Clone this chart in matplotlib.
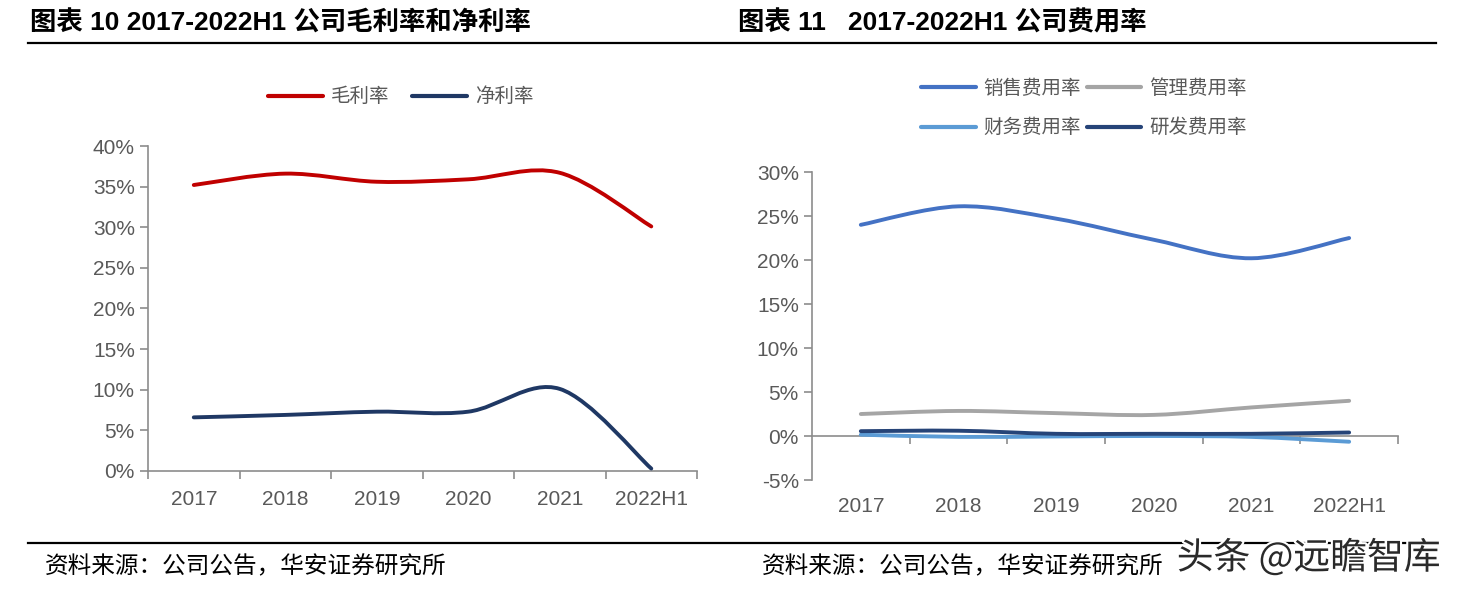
import numpy as np
import matplotlib
matplotlib.use("Agg")
import matplotlib.pyplot as plt
import matplotlib.patheffects as pe
from matplotlib.path import Path
from matplotlib.patches import PathPatch
from matplotlib.lines import Line2D

# data
categories = ["2017", "2018", "2019", "2020", "2021", "2022H1"]

gross_margin = [35.2, 36.6, 35.6, 35.9, 36.7, 30.1]
net_margin = [6.6, 6.9, 7.3, 7.3, 10.1, 0.3]

sales_rate = [24.0, 26.1, 24.7, 22.3, 20.2, 22.5]
admin_rate = [2.5, 2.85, 2.6, 2.4, 3.25, 4.0]
finance_rate = [0.15, -0.1, -0.05, 0.0, -0.1, -0.65]
rd_rate = [0.55, 0.6, 0.25, 0.25, 0.25, 0.4]

left_ticks = [0, 5, 10, 15, 20, 25, 30, 35, 40]
right_ticks = [-5, 0, 5, 10, 15, 20, 25, 30]

LATIN = ["Liberation Sans", "Noto Sans CJK SC"]
CJK = ["Noto Sans CJK SC", "DejaVu Sans"]
AXIS_C = "#8c8c8c"
TEXT_C = "#595959"


def smooth_path(ys):
    # Excel-like smoothed line: Catmull-Rom segments as cubic Bezier curves
    pts = np.column_stack([np.arange(len(ys)), ys]).astype(float)
    ext = np.vstack([pts[0], pts, pts[-1]])
    verts = [pts[0]]
    codes = [Path.MOVETO]
    for i in range(len(pts) - 1):
        p0, p1, p2, p3 = ext[i], ext[i + 1], ext[i + 2], ext[i + 3]
        c1 = p1 + (p2 - p0) / 6
        c2 = p2 - (p3 - p1) / 6
        verts += [c1, c2, p2]
        codes += [Path.CURVE4] * 3
    return Path(verts, codes)


def draw_line(ax, ys, color, label):
    ax.add_patch(PathPatch(smooth_path(ys), fill=False, edgecolor=color,
                           lw=2.8, capstyle="round", joinstyle="round", zorder=3))
    return Line2D([], [], color=color, lw=3, label=label, solid_capstyle="round")


def style_axes(ax):
    for s in ["top", "right"]:
        ax.spines[s].set_visible(False)
    for s in ["left", "bottom"]:
        ax.spines[s].set_color(AXIS_C)
        ax.spines[s].set_linewidth(1.2)
    ax.tick_params(axis="both", colors=AXIS_C, length=6, width=1.2,
                   labelcolor=TEXT_C, labelsize=15)
    for lab in ax.get_yticklabels():
        lab.set_family(LATIN)


fig = plt.figure(figsize=(14.57, 5.94), dpi=100)
x = np.arange(len(categories))
bounds = np.arange(len(categories) + 1) - 0.5

# left panel
ax1 = fig.add_axes([0.1016, 0.2071, 0.3768, 0.5471])
h1 = [draw_line(ax1, gross_margin, "#c00000", "毛利率"),
      draw_line(ax1, net_margin, "#1f3864", "净利率")]
ax1.set_xlim(-0.5, len(categories) - 0.5)
ax1.set_ylim(0, 40)
ax1.set_yticks(left_ticks)
ax1.set_yticklabels([f"{v}%" for v in left_ticks])
ax1.set_xticks(bounds)
ax1.set_xticklabels([])
ax1.set_xticks(x, minor=True)
ax1.set_xticklabels(categories, minor=True, family=LATIN)
ax1.tick_params(axis="x", which="minor", length=0, pad=14, labelsize=15, labelcolor=TEXT_C)
style_axes(ax1)

# right panel
ax2 = fig.add_axes([0.5573, 0.1919, 0.4022, 0.5185])
h2 = [draw_line(ax2, sales_rate, "#4472c4", "销售费用率"),
      draw_line(ax2, admin_rate, "#a5a5a5", "管理费用率"),
      draw_line(ax2, finance_rate, "#5b9bd5", "财务费用率"),
      draw_line(ax2, rd_rate, "#264478", "研发费用率")]
ax2.set_xlim(-0.5, len(categories) - 0.5)
ax2.set_ylim(-5, 30)
ax2.set_yticks(right_ticks)
ax2.set_yticklabels([f"{v}%" for v in right_ticks])
ax2.spines["bottom"].set_position(("data", 0))
ax2.set_xticks(bounds[1:])
ax2.set_xticklabels([])
style_axes(ax2)
sec = ax2.secondary_xaxis("bottom")
sec.set_xticks(x, categories)
sec.tick_params(length=0, pad=12, labelsize=15, labelcolor=TEXT_C)
sec.spines["bottom"].set_visible(False)
for lab in sec.get_xticklabels():
    lab.set_family(LATIN)

# legends
leg_kw = dict(frameon=False, prop={"family": CJK, "size": 14}, labelcolor=TEXT_C,
              handlelength=2.8, handletextpad=0.4)
fig.legend(handles=h1, loc="center", bbox_to_anchor=(0.275, 0.837), ncol=2,
           columnspacing=1.2, **leg_kw)
fig.legend(handles=[h2[0], h2[2], h2[1], h2[3]], loc="center",
           bbox_to_anchor=(0.744, 0.818), ncol=2, columnspacing=0.3,
           labelspacing=0.95, **leg_kw)

# titles, rules, sources
fig.text(0.0206, 0.962, "图表 10 2017-2022H1 公司毛利率和净利率", family=LATIN,
         weight="bold", size=19, va="center", ha="left", color="black")
fig.text(0.5065, 0.962, "图表 11   2017-2022H1 公司费用率", family=LATIN,
         weight="bold", size=19, va="center", ha="left", color="black")
fig.add_artist(Line2D([0.0192, 0.9856], [0.9276, 0.9276], color="black", lw=1.6,
                      transform=fig.transFigure))
fig.add_artist(Line2D([0.0192, 0.9856], [0.0859, 0.0859], color="black", lw=1.6,
                      transform=fig.transFigure))
fig.text(0.0309, 0.045, "资料来源：公司公告，华安证券研究所", family=CJK, size=17,
         va="center", ha="left", color="black")
fig.text(0.523, 0.045, "资料来源：公司公告，华安证券研究所", family=CJK, size=17,
         va="center", ha="left", color="black")
fig.text(0.9885, 0.06, "头条 @远瞻智库", family=CJK, size=26.5, va="center",
         ha="right", color="#2a2a2a",
         path_effects=[pe.withStroke(linewidth=3, foreground="white")])

fig.savefig("out.png", dpi=100, facecolor="white")
